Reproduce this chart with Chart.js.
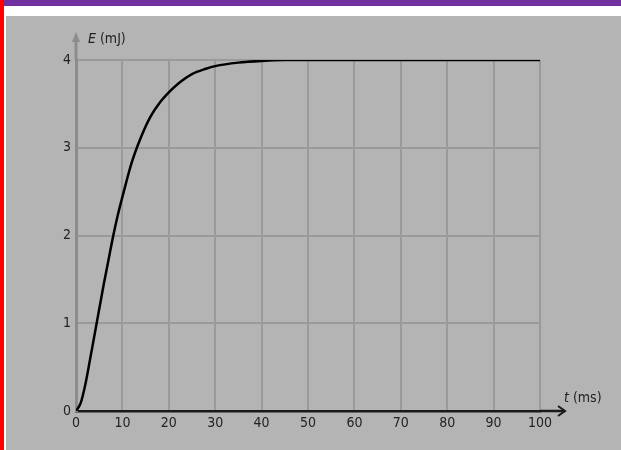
<!DOCTYPE html>
<html>
<head>
<meta charset="utf-8">
<script src="https://cdn.jsdelivr.net/npm/chart.js@4.4.1/dist/chart.umd.min.js"></script>
<style>
  html, body { margin: 0; padding: 0; background: #ffffff; width: 621px; height: 450px; overflow: hidden; }
  #red { position: absolute; left: 0; top: 0; width: 4px; height: 450px; background: #ff0000; }
  #purple { position: absolute; left: 0; top: 0; width: 621px; height: 6px; background: #7030a0; }
  #gray { position: absolute; left: 6px; top: 16px; width: 615px; height: 434px; background: #b4b4b4; }
  #red { z-index: 2; }
  #wrap { position: absolute; left: 0; top: 0; width: 621px; height: 450px; z-index: 3; }
</style>
</head>
<body>
<div id="purple"></div>
<div id="gray"></div>
<div id="red"></div>
<div id="wrap"><canvas id="c" width="621" height="450"></canvas></div>
<script>
// Values
const timeMs = [0, 1, 2, 3, 4, 5, 6, 7, 8, 9, 10, 12, 14, 16, 18, 20, 22, 25, 28, 30, 35, 40, 45, 50, 60, 70, 80, 90, 100];
const energyMJ = [0, 0.09, 0.30, 0.58, 0.87, 1.16, 1.45, 1.72, 1.99, 2.23, 2.44, 2.83, 3.12, 3.35, 3.51, 3.63, 3.73, 3.84, 3.90, 3.93, 3.97, 3.99, 4.0, 4.0, 4.0, 4.0, 4.0, 4.0, 4.0];
const xTickLabels = ['0', '10', '20', '30', '40', '50', '60', '70', '80', '90', '100'];
const yTickLabels = ['0', '1', '2', '3', '4'];
const yAxisTitle = { italic: 'E', rest: ' (mJ)' };
const xAxisTitle = { italic: 't', rest: ' (ms)' };

const FONT = "'Liberation Sans Narrow', 'DejaVu Sans Condensed', 'Liberation Sans', sans-serif";

const points = timeMs.map((t, i) => ({ x: t, y: energyMJ[i] }));

const axesDecor = {
  id: 'axesDecor',
  afterDraw(chart) {
    const ctx = chart.ctx;
    const xs = chart.scales.x, ys = chart.scales.y;
    const x0 = xs.getPixelForValue(0);
    const xEnd = xs.getPixelForValue(100);
    const y0 = ys.getPixelForValue(0);
    const yTop = ys.getPixelForValue(4);
    ctx.save();
    // y axis extension + filled arrow head
    ctx.strokeStyle = '#8c8c8c';
    ctx.fillStyle = '#8c8c8c';
    ctx.lineWidth = 3;
    ctx.beginPath();
    ctx.moveTo(x0, yTop);
    ctx.lineTo(x0, yTop - 22);
    ctx.stroke();
    ctx.beginPath();
    ctx.moveTo(x0, yTop - 28);
    ctx.lineTo(x0 - 4, yTop - 18);
    ctx.lineTo(x0 + 4, yTop - 18);
    ctx.closePath();
    ctx.fill();
    // x axis extension + open arrow head
    ctx.strokeStyle = '#1a1a1a';
    ctx.lineWidth = 2.5;
    ctx.beginPath();
    ctx.moveTo(xEnd, y0);
    ctx.lineTo(xEnd + 25, y0);
    ctx.stroke();
    ctx.lineWidth = 2;
    ctx.beginPath();
    ctx.moveTo(xEnd + 18, y0 - 5);
    ctx.lineTo(xEnd + 25, y0);
    ctx.lineTo(xEnd + 18, y0 + 5);
    ctx.stroke();
    // axis titles
    ctx.fillStyle = '#222222';
    ctx.textBaseline = 'middle';
    ctx.textAlign = 'left';
    function title(t, x, y) {
      ctx.font = 'italic 14px ' + FONT;
      ctx.fillText(t.italic, x, y);
      const w = ctx.measureText(t.italic).width;
      ctx.font = '14px ' + FONT;
      ctx.fillText(t.rest, x + w, y);
    }
    title(yAxisTitle, x0 + 12, yTop - 21);
    title(xAxisTitle, xEnd + 24, y0 - 13);
    ctx.restore();
  }
};

new Chart(document.getElementById('c'), {
  type: 'line',
  data: {
    datasets: [{
      data: points,
      borderColor: '#000000',
      borderWidth: 2.5,
      pointRadius: 0,
      tension: 0.4,
      cubicInterpolationMode: 'monotone',
      fill: false
    }]
  },
  options: {
    responsive: false,
    animation: false,
    devicePixelRatio: 1,
    layout: { padding: { top: 60, right: 81, left: 0, bottom: 0 } },
    plugins: { legend: { display: false }, tooltip: { enabled: false } },
    scales: {
      x: {
        type: 'linear',
        min: 0, max: 100,
        afterFit(s) { s.height = 39; },
        afterBuildTicks(s) { s.ticks = xTickLabels.map(v => ({ value: Number(v) })); },
        ticks: {
          stepSize: 10,
          padding: 4,
          color: '#222222',
          font: { family: FONT, size: 14 },
          maxRotation: 0,
          autoSkip: false,
          callback: (v, i) => xTickLabels[i]
        },
        grid: { color: '#9a9a9a', lineWidth: 2, drawTicks: false },
        border: { display: true, color: '#1a1a1a', width: 2.5 }
      },
      y: {
        type: 'linear',
        min: 0, max: 4,
        afterFit(s) { s.width = 76; },
        afterBuildTicks(s) { s.ticks = yTickLabels.map(v => ({ value: Number(v) })); },
        ticks: {
          stepSize: 1,
          padding: 5,
          color: '#222222',
          font: { family: FONT, size: 14 },
          callback: (v, i) => yTickLabels[i]
        },
        grid: { color: '#9a9a9a', lineWidth: 2, drawTicks: false },
        border: { display: true, color: '#8c8c8c', width: 3 }
      }
    }
  },
  plugins: [axesDecor]
});
</script>
</body>
</html>
